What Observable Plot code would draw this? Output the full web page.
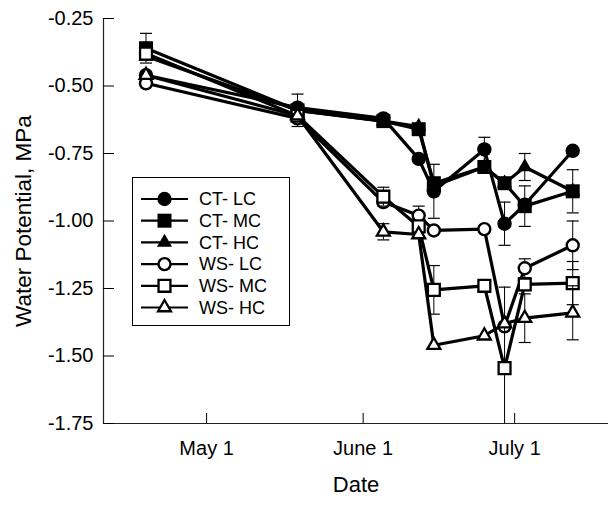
<!DOCTYPE html>
<html><head><meta charset="utf-8">
<script src="https://cdn.jsdelivr.net/npm/d3@7"></script>
<script src="https://cdn.jsdelivr.net/npm/@observablehq/plot@0.6"></script>
<style>
body{margin:0;background:#fff;}
#wrap{position:relative;width:608px;height:521px;}
#legend{position:absolute;left:0;top:0;pointer-events:none;}
</style></head><body><div id="wrap"></div>
<script>
// ---- data ----
const dates = ["2000-04-19","2000-05-19","2000-06-05","2000-06-12","2000-06-15","2000-06-25","2000-06-29","2000-07-03","2000-07-12T12:00"];
const seriesNames = ["CT- LC","CT- MC","CT- HC","WS- LC","WS- MC","WS- HC"];
const ctLC = [-0.46, -0.58, -0.62, -0.77, -0.89, -0.735, -1.01, -0.94, -0.74];
const ctMC = [-0.36, -0.59, -0.63, -0.66, -0.86, -0.80, -0.86, -0.945, -0.89];
const ctHC = [-0.39, -0.59, -0.63, -0.65, -0.87, -0.80, -0.86, -0.80, -0.89];
const wsLC = [-0.49, -0.62, -0.93, -0.98, -1.035, -1.03, -1.39, -1.175, -1.09];
const wsMC = [-0.38, -0.61, -0.91, -1.02, -1.255, -1.24, -1.545, -1.235, -1.23];
const wsHC = [-0.46, -0.61, -1.04, -1.05, -1.46, -1.425, -1.38, -1.36, -1.34];
// standard errors (null = no bar visible)
const ctLCse = [null, null, null, null, 0.10, 0.045, 0.08, null, null];
const ctMCse = [0.055, null, null, null, null, null, null, 0.075, 0.08];
const ctHCse = [null, 0.06, null, null, null, null, null, 0.05, null];
const wsLCse = [null, null, null, 0.035, null, null, null, 0.035, 0.09];
const wsMCse = [null, null, 0.035, null, 0.09, null, 0.30, null, 0.08];
const wsHCse = [null, null, 0.03, null, null, null, null, 0.09, 0.10];
const yTicks = [-1.75, -1.5, -1.25, -1.0, -0.75, -0.5, -0.25];
const xTickDates = ["2000-05-01","2000-06-01","2000-07-01"];
const xTickLabels = ["May 1","June 1","July 1"];
const xDomain = ["2000-04-10T14:00","2000-07-19T14:00"];

// ---- build tables ----
const parse = s => new Date(s + (s.includes("T") ? "Z" : "T00:00Z"));
const values = [ctLC, ctMC, ctHC, wsLC, wsMC, wsHC];
const errors = [ctLCse, ctMCse, ctHCse, wsLCse, wsMCse, wsHCse];
const styles = [
  {symbol:"circle", fill:"black", r:7.2, sw:0},
  {symbol:"square", fill:"black", r:7.9, sw:0},
  {symbol:"triangle", fill:"black", r:5.6, sw:0},
  {symbol:"circle", fill:"white", r:6.0, sw:2.4},
  {symbol:"square", fill:"white", r:6.7, sw:2.3},
  {symbol:"triangle", fill:"white", r:4.8, sw:2.3}
];
const tickD = xTickDates.map(parse);
const cap = {draw(ctx){ ctx.moveTo(-6,0); ctx.lineTo(6,0); }};

const marks = [];
seriesNames.forEach((name, s) => {
  const rows = dates.map((d, i) => ({date: parse(d), v: values[s][i], series: name}));
  const err = dates.map((d, i) => errors[s][i] == null ? null :
      ({date: parse(d), lo: values[s][i] - errors[s][i], hi: values[s][i] + errors[s][i]})).filter(Boolean);
  const caps = err.flatMap(e => [{date: e.date, y: e.lo}, {date: e.date, y: e.hi}]);
  const st = styles[s];
  marks.push(Plot.line(rows, {x:"date", y:"v", stroke:"black", strokeWidth:3.2, strokeLinejoin:"round"}));
  marks.push(Plot.ruleX(err, {x:"date", y1:"lo", y2:"hi", stroke:"black", strokeWidth:1, clip:true}));
  marks.push(Plot.dot(caps, {x:"date", y:"y", symbol:cap, r:6, stroke:"black", strokeWidth:1.2, clip:true}));
  marks.push(Plot.dot(rows, {x:"date", y:"v", symbol:st.symbol, r:st.r, fill:st.fill,
     stroke:"black", strokeWidth:st.sw}));
});

const chart = Plot.plot({
  width: 608, height: 521,
  marginLeft: 103, marginRight: 0, marginTop: 18, marginBottom: 98,
  style: {fontFamily: "'Liberation Sans', Arial, sans-serif", background: "white", color: "black"},
  x: {type: "utc", domain: xDomain.map(parse)},
  y: {domain: [-1.75, -0.25]},
  marks: [
    Plot.ruleY([-1.75], {stroke:"#222", strokeWidth:1.2}),
    Plot.ruleX([parse(xDomain[0])], {stroke:"#222", strokeWidth:1.2, y1:-1.75, y2:-0.25}),
    Plot.axisX(tickD, {tickSize:-10, tickPadding:27, fontSize:20, label:null,
      tickFormat: d => xTickLabels[tickD.findIndex(t => +t === +d)]}),
    Plot.axisY(yTicks, {tickSize:-11, tickPadding:21, fontSize:20, label:null,
      tickFormat: d => d.toFixed(2)}),
    Plot.text(["Date"], {frameAnchor:"bottom", dy:68, fontSize:22}),
    Plot.text(["Water Potential, MPa"], {frameAnchor:"left", textAnchor:"middle", rotate:-90, dx:-80, fontSize:22.5}),
    ...marks
  ]
});
const wrap = document.getElementById("wrap");
wrap.appendChild(chart);

// ---- legend ----
const lg = d3.select(wrap).append("svg").attr("id","legend").attr("width",608).attr("height",521)
  .style("font-family","'Liberation Sans', Arial, sans-serif");
lg.append("rect").attr("x",132.5).attr("y",177.5).attr("width",157).attr("height",148)
  .attr("fill","white").attr("stroke","black").attr("stroke-width",1);
const symMap = {circle: d3.symbolCircle, square: d3.symbolSquare, triangle: d3.symbolTriangle};
seriesNames.forEach((name, s) => {
  const y = 199 + s * 21.7, st = styles[s];
  lg.append("line").attr("x1",141).attr("x2",188).attr("y1",y).attr("y2",y)
    .attr("stroke","black").attr("stroke-width",2.2);
  lg.append("path").attr("d", d3.symbol(symMap[st.symbol], Math.PI * st.r * st.r)())
    .attr("transform", `translate(164.5,${y})`).attr("fill", st.fill)
    .attr("stroke","black").attr("stroke-width", st.sw);
  lg.append("text").attr("x",199).attr("y",y).attr("dy","0.35em").attr("font-size",18).text(name);
});
</script>
</body></html>
